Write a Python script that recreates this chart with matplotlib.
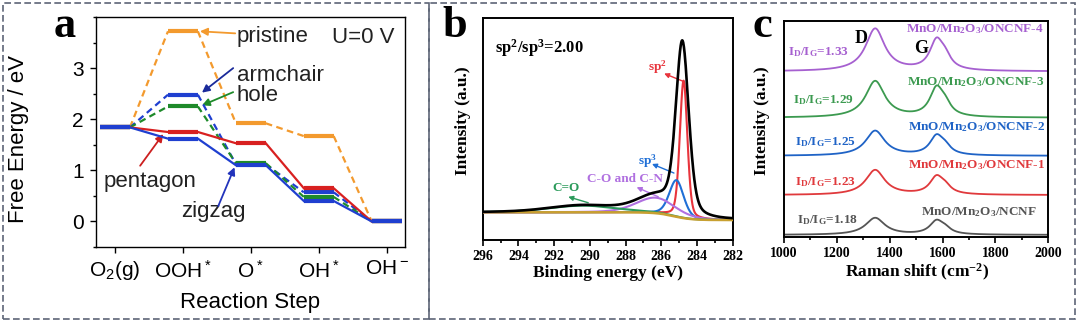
import numpy as np
import matplotlib
matplotlib.use('Agg')
import matplotlib.pyplot as plt
from matplotlib.patches import Rectangle
from matplotlib.ticker import MultipleLocator

plt.rcParams['font.family'] = 'Liberation Sans'
plt.rcParams['mathtext.default'] = 'regular'

W, H = 1080, 324
SERIF = 'Liberation Serif'

# (a) free energy along the ORR pathway, eV
STEPS = ['O$_2$(g)', 'OOH$^*$', 'O$^*$', 'OH$^*$', 'OH$^-$']
PRISTINE = [1.84, 3.72, 1.92, 1.67, 0.0]
ARMCHAIR = [1.84, 2.48, 1.12, 0.57, 0.0]
HOLE = [1.84, 2.25, 1.14, 0.48, 0.0]
PENTAGON = [1.84, 1.75, 1.53, 0.65, 0.0]
ZIGZAG = [1.84, 1.62, 1.10, 0.40, 0.0]

# (b) C 1s fit components: centre (eV), height (a.u.), fwhm (eV)
XPS_NAMES = ['sp$^2$', 'sp$^3$', 'C-O and C-N', 'C=O']
XPS_CENTER = [284.75, 285.15, 286.3, 290.4]
XPS_HEIGHT = [62.0, 16.5, 7.0, 3.0]
XPS_FWHM = [0.5, 0.95, 2.6, 4.5]
# measured main line (sp2 + sp3 envelope)
RAW_CENTER, RAW_HEIGHT, RAW_FWHM = 284.82, 77.0, 0.85
BG_HIGH, BG_LOW, BG_STEP = 12.5, 9.0, 285.3

# (c) Raman D / G bands per sample
RAMAN_NAMES = ['MnO/Mn$_2$O$_3$/NCNF', 'MnO/Mn$_2$O$_3$/ONCNF-1', 'MnO/Mn$_2$O$_3$/ONCNF-2',
               'MnO/Mn$_2$O$_3$/ONCNF-3', 'MnO/Mn$_2$O$_3$/ONCNF-4']
RAMAN_RATIO = ['1.18', '1.23', '1.25', '1.29', '1.33']
RAMAN_OFFSET = [1.1, 19.5, 37.6, 55.2, 76.6]
D_HEIGHT = [7.8, 11.5, 11.5, 16.8, 19.6]
G_HEIGHT = [6.0, 7.8, 8.5, 12.7, 13.2]
D2_HEIGHT = [2.0, 2.7, 2.9, 4.2, 4.6]
D_POS, G_POS, D2_POS = 1345, 1577, 1610

SITE_DESIGNS = {
    'pristine': {'data': PRISTINE, 'color': '#f39a2e', 'ls': (0, (3, 2))},
    'armchair': {'data': ARMCHAIR, 'color': '#1f3fd0', 'ls': (0, (3, 2))},
    'hole': {'data': HOLE, 'color': '#1e8a2a', 'ls': (0, (3, 2))},
    'pentagon': {'data': PENTAGON, 'color': '#d82020', 'ls': 'solid'},
    'zigzag': {'data': ZIGZAG, 'color': '#1f3fd0', 'ls': 'solid'},
}
XPS_COLORS = ['#e8343c', '#1f6fd6', '#b070e0', '#2a9a5a']
RAMAN_COLORS = ['#555555', '#e0393c', '#1f63c6', '#3c9a50', '#a660d0']


def px_rect(left, top, right, bottom):
    return [left / W, 1 - bottom / H, (right - left) / W, (bottom - top) / H]


def pseudo_voigt(x, center, height, fwhm, eta=0.3):
    u = (x - center) / fwhm
    return height * ((1 - eta) * np.exp(-4 * np.log(2) * u ** 2) + eta / (1 + 4 * u ** 2))


def lorentz(x, center, height, fwhm):
    return height / (1 + 4 * ((x - center) / fwhm) ** 2)


def draw_free_energy(ax):
    half = 0.22
    for z, (name, d) in enumerate(SITE_DESIGNS.items()):
        levels = d['data']
        for i, lev in enumerate(levels):
            ax.plot([i - half, i + half], [lev, lev], color=d['color'], lw=3.0,
                    solid_capstyle='butt', zorder=3 + z)
        for i in range(len(levels) - 1):
            ax.plot([i + half, i + 1 - half], [levels[i], levels[i + 1]], color=d['color'],
                    lw=1.6, ls=d['ls'], zorder=3 + z)

    ax.set_xlim(-0.28, 4.27)
    ax.set_ylim(-0.5, 4.0)
    ax.set_xticks(range(len(STEPS)), STEPS, fontsize=15)
    ax.set_yticks([0, 1, 2, 3], ['0', '1', '2', '3'], fontsize=15)
    ax.yaxis.set_minor_locator(MultipleLocator(0.5))
    ax.tick_params(direction='out', length=4, width=1.0, pad=5)
    ax.tick_params(which='minor', direction='out', length=2.5, width=1.0)
    for s in ax.spines.values():
        s.set_linewidth(1.0)
    ax.set_ylabel('Free Energy / eV', fontsize=16)
    ax.yaxis.set_label_coords(-0.218, 0.47)
    ax.set_xlabel('Reaction Step', fontsize=16)
    ax.xaxis.set_label_coords(0.498, -0.195)

    arrow = dict(arrowstyle='-|>', lw=1.3, mutation_scale=11, shrinkA=0, shrinkB=0)
    notes = [
        ('pristine', (1.79, 3.52), (1.77, 3.68), (1.25, 3.72), '#f39a2e'),
        ('armchair', (1.79, 2.75), (1.74, 3.0), (1.28, 2.52), '#1a2a9a'),
        ('hole', (1.79, 2.35), (1.74, 2.53), (1.28, 2.27), '#1e8a2a'),
        ('pentagon', (-0.17, 0.665), (0.37, 1.09), (0.71, 1.71), '#cc1f1f'),
        ('zigzag', (0.98, 0.08), (1.52, 0.30), (1.76, 1.06), '#2233bb'),
    ]
    for label, txy, tail, head, color in notes:
        ax.text(*txy, label, fontsize=16, va='baseline', ha='left', color='#222222')
        ax.annotate('', xy=head, xytext=tail, arrowprops=dict(arrow, color=color))
    ax.text(3.19, 3.50, 'U=0 V', fontsize=16, va='baseline', color='#222222')


def draw_xps(ax):
    x = np.linspace(282, 296, 1400)
    bg = BG_LOW + (BG_HIGH - BG_LOW) / (1 + np.exp(-(x - BG_STEP) / 0.5))
    raw = bg + pseudo_voigt(x, RAW_CENTER, RAW_HEIGHT, RAW_FWHM, eta=0.35)
    for c, h, w, color in zip(XPS_CENTER, XPS_HEIGHT, XPS_FWHM, XPS_COLORS):
        comp = pseudo_voigt(x, c, h, w)
        if c > 286:
            raw += comp
        ax.plot(x, bg + comp, color=color, lw=1.5, zorder=3)
    ax.plot(x, bg, color='#c8a030', lw=1.8, zorder=4)
    ax.plot(x, raw, color='black', lw=1.9, zorder=5)

    ax.set_xlim(296, 282)
    ax.set_ylim(0, 100)
    ticks = list(range(296, 281, -2))
    ax.set_xticks(ticks, [str(t) for t in ticks], fontsize=10, fontweight='bold', fontfamily=SERIF)
    ax.xaxis.set_minor_locator(MultipleLocator(1))
    ax.set_yticks([])
    ax.tick_params(direction='out', length=4, width=1.2, pad=3)
    ax.tick_params(which='minor', direction='out', length=2.5, width=1.2)
    for s in ax.spines.values():
        s.set_linewidth(1.4)
    font = dict(fontfamily=SERIF, fontweight='bold')
    ax.set_xlabel('Binding energy (eV)', fontsize=12.5, **font)
    ax.xaxis.set_label_coords(0.501, -0.115)
    ax.set_ylabel('Intensity (a.u.)', fontsize=12.5, **font)
    ax.yaxis.set_label_coords(-0.045, 0.537)
    ax.text(295.31, 84.3, 'sp$^2$/sp$^3$=2.00', fontsize=12, va='baseline', **font)

    arrow = dict(arrowstyle='-|>', lw=1.0, mutation_scale=7, shrinkA=0, shrinkB=0)
    notes = [
        ((285.68, 76.2), 'right', (284.72, 71.4), (285.84, 75.1)),
        ((286.26, 33.8), 'right', (285.29, 30.2), (286.52, 34.3)),
        ((288.05, 26.2), 'center', (286.17, 19.5), (287.38, 23.8)),
        ((291.34, 22.1), 'center', (290.09, 16.8), (291.21, 19.5)),
    ]
    for name, color, (txy, ha, tail, head) in zip(XPS_NAMES, XPS_COLORS, notes):
        ax.text(*txy, name, fontsize=9.5, color=color, ha=ha, va='baseline', **font)
        ax.annotate('', xy=head, xytext=tail, arrowprops=dict(arrow, color=color))


def draw_raman(ax):
    x = np.linspace(1000, 2000, 1001)
    for i in range(len(RAMAN_NAMES)):
        y = (RAMAN_OFFSET[i] + lorentz(x, D_POS, D_HEIGHT[i], 88)
             + lorentz(x, G_POS, G_HEIGHT[i], 62) + lorentz(x, D2_POS, D2_HEIGHT[i], 52))
        ax.plot(x, y, color=RAMAN_COLORS[i], lw=1.3)

    ax.set_xlim(1000, 2000)
    ax.set_ylim(0, 100)
    ticks = list(range(1000, 2001, 200))
    ax.set_xticks(ticks, [str(t) for t in ticks], fontsize=10, fontweight='bold', fontfamily=SERIF)
    ax.xaxis.set_minor_locator(MultipleLocator(100))
    ax.set_yticks([])
    ax.tick_params(direction='out', length=4, width=1.2, pad=3)
    ax.tick_params(which='minor', direction='out', length=2.5, width=1.2)
    for s in ax.spines.values():
        s.set_linewidth(1.4)
    font = dict(fontfamily=SERIF, fontweight='bold')
    ax.set_xlabel('Raman shift (cm$^{-2}$)', fontsize=12.5, **font)
    ax.xaxis.set_label_coords(0.503, -0.112)
    ax.set_ylabel('Intensity (a.u.)', fontsize=12.5, **font)
    ax.yaxis.set_label_coords(-0.053, 0.54)

    ax.text(1290, 89.6, 'D', fontsize=13, ha='center', va='baseline', **font)
    ax.text(1518, 84.9, 'G', fontsize=13, ha='center', va='baseline', **font)
    name_pos = [(1956, 10.3), (1987, 31.9), (1987, 49.5), (1987, 70.3), (1981, 94.9)]
    ratio_pos = [(1048, 6.4), (1042, 24.1), (1042, 42.6), (1035, 61.9), (1016, 84.2)]
    for i, name in enumerate(RAMAN_NAMES):
        ax.text(*name_pos[i], name, fontsize=9.5, color=RAMAN_COLORS[i], ha='right',
                va='baseline', **font)
        ax.text(*ratio_pos[i], 'I$_D$/I$_G$=' + RAMAN_RATIO[i], fontsize=9.5,
                color=RAMAN_COLORS[i], ha='left', va='baseline', **font)


def panel_box(fig, left, top, right, bottom):
    fig.add_artist(Rectangle((left / W, 1 - bottom / H), (right - left) / W, (bottom - top) / H,
                             transform=fig.transFigure, fill=False, ec='#5d6577', lw=1.2,
                             ls=(0, (4, 2))))


fig = plt.figure(figsize=(W / 100, H / 100), dpi=100)
ax_a = fig.add_axes(px_rect(96, 17, 405, 247))
ax_b = fig.add_axes(px_rect(482.7, 18.3, 732.7, 240))
ax_c = fig.add_axes(px_rect(784, 20.7, 1048.3, 237.3))

draw_free_energy(ax_a)
draw_xps(ax_b)
draw_raman(ax_c)

panel_box(fig, 3, 3, 429, 319)
panel_box(fig, 429, 3, 1075, 319)

for letter, xp in [('a', 65), ('b', 455), ('c', 762)]:
    fig.text(xp / W, 1 - 37 / H, letter, fontsize=32, fontweight='bold', fontfamily=SERIF,
             ha='center', va='baseline')

fig.savefig('out.png', dpi=100)
